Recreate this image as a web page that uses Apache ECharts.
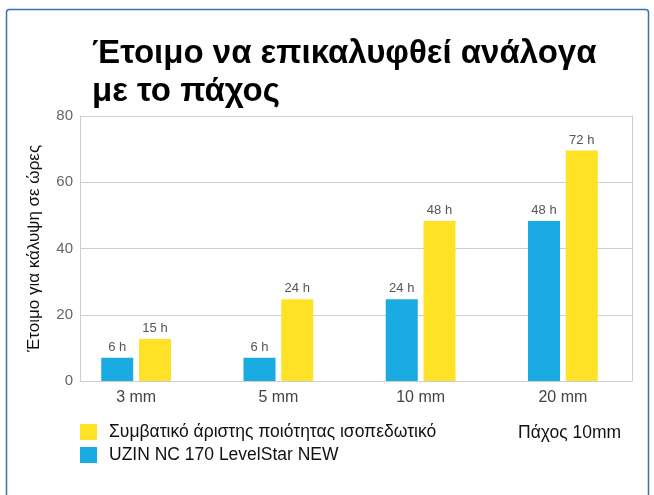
<!DOCTYPE html>
<html>
<head>
<meta charset="utf-8">
<script src="https://cdn.jsdelivr.net/npm/echarts@6/dist/echarts.min.js"></script>
<style>
html,body{margin:0;padding:0;background:#fff;}
#c{width:654px;height:495px;}
</style>
</head>
<body>
<div id="c"></div>
<script>
var categories = ['3 mm', '5 mm', '10 mm', '20 mm'];
var uzinValues = [7, 7, 24.7, 48.3];
var conventionalValues = [12.7, 24.7, 48.3, 69.6];
var uzinLabels = ['6 h', '6 h', '24 h', '48 h'];
var conventionalLabels = ['15 h', '24 h', '48 h', '72 h'];
var yTicks = [0, 20, 40, 60, 80];
var seriesNames = ['Συμβατικό άριστης ποιότητας ισοπεδωτικό', 'UZIN NC 170 LevelStar NEW'];
var titleText = 'Έτοιμο να επικαλυφθεί ανάλογα\nμε το πάχος';
var yAxisName = 'Έτοιμο για κάλυψη σε ώρες';
var noteText = 'Πάχος 10mm';

var BLUE = '#1aabe3', YELLOW = '#ffe226', FRAME = '#c9ced8';
var FONT = 'Liberation Sans';

var chart = echarts.init(document.getElementById('c'));
chart.setOption({
  animation: false,
  backgroundColor: '#fff',
  textStyle: {fontFamily: FONT},
  title: [
    {text: titleText, left: 87, top: 30,
     textStyle: {fontSize: 33, fontWeight: 'bold', color: '#000', lineHeight: 38, fontFamily: FONT}},
    {text: noteText, left: 513, top: 419,
     textStyle: {fontSize: 17.5, fontWeight: 'normal', color: '#111', fontFamily: FONT}}
  ],
  graphic: [{
    type: 'rect', silent: true,
    shape: {x: 6.5, y: 9.5, width: 642, height: 520, r: 3},
    style: {fill: 'none', stroke: '#3b6fb4', lineWidth: 1.5}
  }],
  legend: {
    orient: 'vertical', left: 75, top: 418,
    itemWidth: 17, itemHeight: 16, itemGap: 5, icon: 'rect',
    data: [seriesNames[0], seriesNames[1]],
    textStyle: {fontSize: 17.5, color: '#111', fontFamily: FONT, padding: [0, 0, 0, 7]}
  },
  grid: [
    {left: 80, right: 22, top: 116, bottom: 114},
    {left: 65, right: 20, top: 116, bottom: 114}
  ],
  xAxis: [
    {gridIndex: 0, type: 'value', min: 0, max: 1,
     axisLine: {show: true, lineStyle: {color: FRAME, width: 1}},
     axisTick: {show: false}, axisLabel: {show: false}, splitLine: {show: false}},
    {gridIndex: 1, type: 'category', data: categories,
     axisLine: {show: false}, axisTick: {show: false},
     axisLabel: {fontSize: 16, color: '#444', margin: 9, fontFamily: FONT}}
  ],
  yAxis: [
    {gridIndex: 0, type: 'value', min: yTicks[0], max: yTicks[yTicks.length - 1], interval: 20,
     name: yAxisName, nameLocation: 'middle', nameGap: 37, nameRotate: 90,
     nameTextStyle: {fontSize: 17, color: '#111', fontFamily: FONT},
     axisLine: {show: true, lineStyle: {color: FRAME, width: 1}},
     axisTick: {show: false},
     axisLabel: {fontSize: 15, color: '#666', margin: 7, fontFamily: FONT},
     splitLine: {show: true, lineStyle: {color: FRAME, width: 1}}},
    {gridIndex: 0, type: 'value', position: 'right', min: 0, max: 80,
     axisLine: {show: true, lineStyle: {color: FRAME, width: 1}},
     axisTick: {show: false}, axisLabel: {show: false}, splitLine: {show: false}},
    {gridIndex: 1, type: 'value', min: 0, max: 80, show: false}
  ],
  series: [
    {name: seriesNames[1], type: 'bar', xAxisIndex: 1, yAxisIndex: 2,
     data: uzinValues, barWidth: 32, barGap: '18%',
     itemStyle: {color: BLUE},
     label: {show: true, position: 'top', distance: 4, fontSize: 13, color: '#555',
       formatter: function (p) { return uzinLabels[p.dataIndex]; }}},
    {name: seriesNames[0], type: 'bar', xAxisIndex: 1, yAxisIndex: 2,
     data: conventionalValues, barWidth: 32, barGap: '18%',
     itemStyle: {color: YELLOW},
     label: {show: true, position: 'top', distance: 4, fontSize: 13, color: '#555',
       formatter: function (p) { return conventionalLabels[p.dataIndex]; }}}
  ]
});
</script>
</body>
</html>
